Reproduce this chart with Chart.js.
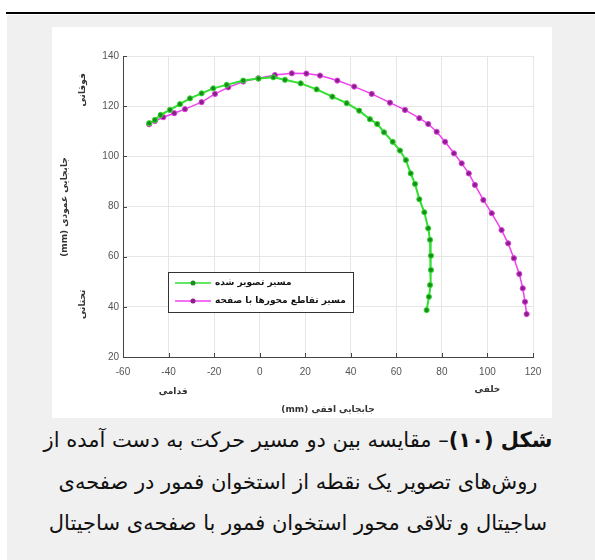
<!DOCTYPE html>
<html>
<head>
<meta charset="utf-8">
<script src="https://cdn.jsdelivr.net/npm/chart.js@4/dist/chart.umd.min.js"></script>
<style>
html,body{margin:0;padding:0;background:#fff}
#page{position:relative;width:595px;height:560px;overflow:hidden}
#rule{position:absolute;left:6px;top:12px;width:589px;height:2px;background:#000}
#panel{position:absolute;left:7px;top:15px;width:588px;height:545px;background:#f0f0f0}
#wrap{position:absolute;left:52px;top:27px;width:500px;height:391px;background:#fff}
#caption{position:absolute;left:7px;top:420px;width:582px;text-align:center;direction:rtl;
font-family:"DejaVu Sans",sans-serif;font-size:21px;line-height:41.5px;color:#111}
</style>
</head>
<body>
<div id="page">
<div id="panel"></div>
<div id="rule"></div>
<div id="wrap"><canvas id="c" width="500" height="391"></canvas></div>
<div id="caption">
<div><b>شکل (۱۰)</b>– مقایسه بین دو مسیر حرکت به دست آمده از</div>
<div>روش‌های تصویر یک نقطه از استخوان فمور در صفحه‌ی</div>
<div>ساجیتال و تلاقی محور استخوان فمور با صفحه‌ی ساجیتال</div>
</div>
</div>
<script>
// series 1: مسیر تصویر شده
const greenX=[-48.5,-46,-43.5,-39.4,-35,-30.6,-25.5,-20.4,-14.5,-7.2,-0.5,6,11.1,18,25,31.9,38.2,43.7,48.4,51.6,54.6,58.4,61.6,64.2,66.3,68.2,70.1,72.3,74.0,74.8,75.2,75.2,74.8,74.3,73.3]
const greenY=[113.2,114.5,116.5,118.5,120.8,123.1,125.1,127.1,128.5,130.2,131,131.5,130.5,129.1,126.7,123.8,121.2,118.2,114.8,112.9,109.6,105.8,102.3,98.5,93.2,89,82.9,77.7,71.3,66.7,60.4,54.7,48.7,44,38.7]
// series 2: مسیر تقاطع محورها با صفحه
const pinkX=[-48.5,-46,-42.3,-37.5,-32.8,-25.5,-19.6,-13.8,-7.2,-0.6,6.7,14.1,20.5,26.5,34.1,41.5,49.2,57.2,63.8,70.1,74.0,77.7,81.4,85.3,88.7,91.8,94.5,98.2,101.9,106.2,109.1,111.6,114,115.5,116.5,117.2]
const pinkY=[112.8,114.1,115.6,117.2,118.8,121.6,124.9,127.5,129.8,131.1,132.4,133.1,133,132.2,130.2,127.8,124.9,121.4,118.5,115.2,112.9,109.8,105.8,101.2,97.2,93.2,88.6,82.6,77.3,70.6,65.3,59.4,53.1,47.4,42.0,37.1]
const seriesNames=["مسیر تصویر شده","مسیر تقاطع محورها با صفحه"]
const xTicks=[-60,-40,-20,0,20,40,60,80,100,120]
const yTicks=[20,40,60,80,100,120,140]

const toPts=(xs,ys)=>xs.map((x,i)=>({x:x,y:ys[i]}))
const faFont='"DejaVu Sans",sans-serif'

const extras={
id:"extras",
afterDraw(chart){
const ctx=chart.ctx
const xs=chart.scales.x, ys=chart.scales.y
const a=chart.chartArea
ctx.save()
// inward ticks
ctx.strokeStyle="#444";ctx.lineWidth=1
xTicks.forEach(v=>{const p=Math.round(xs.getPixelForValue(v))+0.5;ctx.beginPath();ctx.moveTo(p,a.bottom);ctx.lineTo(p,a.bottom-4);ctx.stroke()})
yTicks.forEach(v=>{const p=Math.round(ys.getPixelForValue(v))+0.5;ctx.beginPath();ctx.moveTo(a.left,p);ctx.lineTo(a.left+4,p);ctx.stroke()})
// axis words
ctx.fillStyle="#333";ctx.direction="rtl";ctx.textAlign="center";ctx.textBaseline="middle"
ctx.font="bold 9px "+faFont
ctx.fillText("قدامی",xs.getPixelForValue(-38),365)
ctx.fillText("خلفی",xs.getPixelForValue(100),363)
ctx.fillText("جابجایی افقی (mm)",(a.left+a.right)/2,383)
const rot=(t,x,y)=>{ctx.save();ctx.translate(x,y);ctx.rotate(-Math.PI/2);ctx.fillText(t,0,0);ctx.restore()}
rot("جابجایی عمودی (mm)",13,180)
rot("فوقانی",31,ys.getPixelForValue(126.5))
rot("تحتانی",31,ys.getPixelForValue(41))
// legend
const lx=116,ly=245,lw=185,lh=40
ctx.fillStyle="#fff";ctx.fillRect(lx,ly,lw,lh)
ctx.strokeStyle="#333";ctx.lineWidth=1;ctx.strokeRect(lx+0.5,ly+0.5,lw,lh)
chart.data.datasets.forEach((d,i)=>{
const yy=ly+11+i*18
ctx.strokeStyle=d.borderColor;ctx.lineWidth=1.5
ctx.beginPath();ctx.moveTo(lx+7,yy);ctx.lineTo(lx+43,yy);ctx.stroke()
ctx.fillStyle=d.pointBackgroundColor
ctx.beginPath();ctx.arc(lx+25,yy,2.5,0,Math.PI*2);ctx.fill()
ctx.fillStyle="#111";ctx.textAlign="left";ctx.font="bold 9px "+faFont
ctx.fillText(d.label,lx+47,yy)
})
ctx.restore()
}
}

new Chart(document.getElementById("c"),{
type:"scatter",
data:{datasets:[
{label:seriesNames[0],data:toPts(greenX,greenY),showLine:true,borderColor:"#2fe02f",borderWidth:2,
pointBackgroundColor:"#1e8a1e",pointBorderColor:"#2fe02f",pointBorderWidth:1,pointRadius:2.6,tension:0},
{label:seriesNames[1],data:toPts(pinkX,pinkY),showLine:true,borderColor:"#f040f0",borderWidth:1.5,
pointBackgroundColor:"#8a1f8a",pointBorderColor:"#e040e0",pointBorderWidth:1,pointRadius:2.6,tension:0}
]},
options:{
responsive:false,animation:false,
layout:{padding:{top:29,right:19,left:0,bottom:0}},
plugins:{legend:{display:false},tooltip:{enabled:false}},
scales:{
x:{type:"linear",min:-60,max:120,
afterBuildTicks:s=>{s.ticks=xTicks.map(v=>({value:v}))},
afterFit:s=>{s.height=61},
grid:{color:"#e6e6e6",drawTicks:false},border:{color:"#444",width:1},
ticks:{padding:9,color:"#555",font:{family:"Liberation Sans",size:10},maxRotation:0}},
y:{type:"linear",min:20,max:140,
afterBuildTicks:s=>{s.ticks=yTicks.map(v=>({value:v}))},
afterFit:s=>{s.width=71},
grid:{color:"#e6e6e6",drawTicks:false},border:{color:"#444",width:1},
ticks:{padding:4,color:"#555",font:{family:"Liberation Sans",size:10}}}
}
},
plugins:[extras]
})
</script>
</body>
</html>
